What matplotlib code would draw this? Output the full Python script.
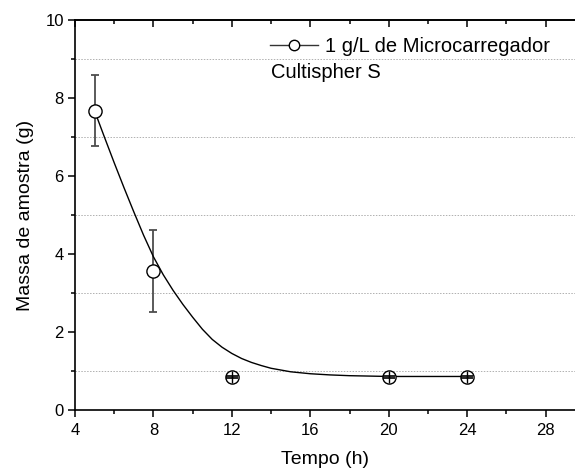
import matplotlib
matplotlib.use("Agg")
import matplotlib.pyplot as plt
from matplotlib.lines import Line2D
from matplotlib.ticker import MultipleLocator

plt.rcParams["font.family"] = ["Liberation Sans", "DejaVu Sans"]

# measured points
tempo = [5, 8, 12, 20, 24]
massa = [7.67, 3.57, 0.85, 0.85, 0.85]
erro = [0.91, 1.05, 0.03, 0.03, 0.03]

# smoothed connection line
curva_x = [5.0, 5.5, 6.0, 6.5, 7.0, 7.5, 8.0, 8.5, 9.0, 9.5, 10.0, 10.5,
           11.0, 11.5, 12.0, 12.5, 13.0, 13.5, 14.0, 15.0, 16.0, 17.0,
           18.0, 19.0, 20.0, 24.0]
curva_y = [7.67, 7.00, 6.34, 5.70, 5.08, 4.48, 3.93, 3.47, 3.07, 2.71, 2.38,
           2.07, 1.81, 1.61, 1.45, 1.32, 1.22, 1.14, 1.07, 0.98, 0.93, 0.90,
           0.88, 0.87, 0.86, 0.86]

legenda_1 = "1 g/L de Microcarregador"
legenda_2 = "Cultispher S"

fig = plt.figure(figsize=(5.75, 4.71), dpi=100)
ax = fig.add_axes([0.1304, 0.1295, 0.8696, 0.828])

ax.plot(curva_x, curva_y, color="black", lw=1.0, zorder=2)

# big error bars sit behind the markers, small ones show on top (⊕ look)
grande = [i for i, e in enumerate(erro) if e > 0.2]
pequeno = [i for i, e in enumerate(erro) if e <= 0.2]
ax.errorbar([tempo[i] for i in grande], [massa[i] for i in grande],
            yerr=[erro[i] for i in grande], fmt="none", ecolor="#4d4d4d",
            elinewidth=1.3, capsize=2.6, capthick=1.3, zorder=1)
ax.plot(tempo, massa, ls="none", marker="o", ms=9.5, mfc="white",
        mec="black", mew=1.0, zorder=3)
ax.errorbar([tempo[i] for i in pequeno], [massa[i] for i in pequeno],
            yerr=[erro[i] for i in pequeno], fmt="none", ecolor="black",
            elinewidth=1.0, capsize=4.2, capthick=1.2, zorder=4)
ax.plot([tempo[i] for i in pequeno], [massa[i] for i in pequeno], ls="none",
        marker="|", ms=9.0, mec="black", mew=1.0, zorder=4)

ax.set_xlim(4, 29.5)
ax.set_ylim(0, 10)
ax.xaxis.set_major_locator(MultipleLocator(4))
ax.xaxis.set_minor_locator(MultipleLocator(2))
ax.yaxis.set_major_locator(MultipleLocator(2))
ax.yaxis.set_minor_locator(MultipleLocator(1))

ax.grid(which="minor", axis="y", color="#b0b0b0", ls=(0, (1.5, 1.5)), lw=0.7)
ax.set_axisbelow(True)

for s in ("left", "bottom", "top"):
    ax.spines[s].set_linewidth(1.2)
ax.spines["right"].set_visible(False)

ax.tick_params(which="major", direction="out", length=5, width=1.1,
               labelsize=12)
ax.tick_params(which="minor", direction="out", length=3, width=1.1)
ax.tick_params(axis="x", which="major", pad=4)
ax.tick_params(axis="y", which="major", pad=3)

# top ticks point into the plot
top = ax.secondary_xaxis("top")
top.xaxis.set_major_locator(MultipleLocator(4))
top.xaxis.set_minor_locator(MultipleLocator(2))
top.tick_params(which="major", direction="in", length=5, width=1.1,
                labeltop=False)
top.tick_params(which="minor", direction="in", length=3, width=1.1)
top.spines["top"].set_linewidth(1.2)

ax.set_xlabel("Tempo (h)", fontsize=14, labelpad=10)
ax.set_ylabel("Massa de amostra (g)", fontsize=14, labelpad=8)

handle = Line2D([], [], color="#333333", lw=1.0, marker="o", ms=7.5,
                mfc="white", mec="black")
fig.legend([handle], [legenda_1], loc="center left", frameon=False,
           fontsize=14.5, handlelength=2.4, handletextpad=0.35,
           borderpad=0, borderaxespad=0,
           bbox_to_anchor=(270 / 575, 1 - 47 / 471))
fig.text(271 / 575, 1 - 72 / 471, legenda_2, fontsize=14.5,
         ha="left", va="center")

fig.savefig("out.png", dpi=100)
